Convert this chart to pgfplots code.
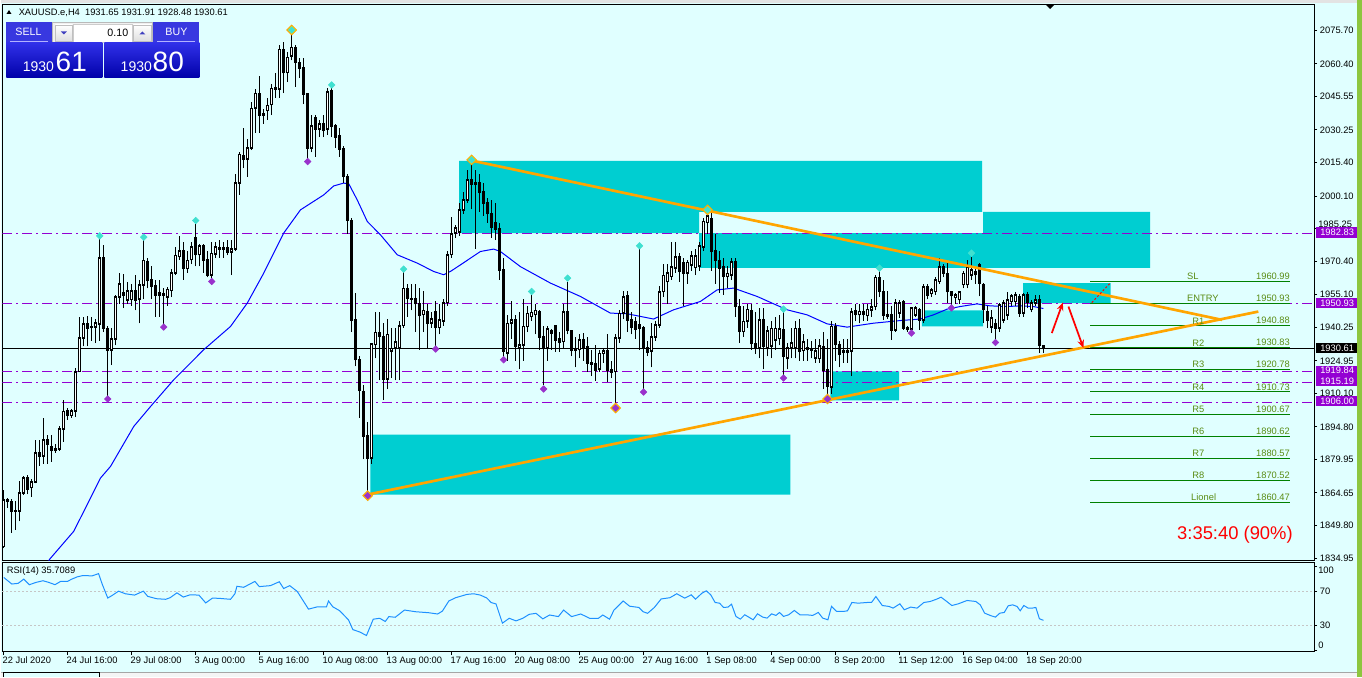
\documentclass[border=0pt]{standalone}
\usepackage{fontspec}
\setmainfont{Liberation Sans}
\usepackage{pgfplots}
\usepackage{pgfplotstable}
\pgfplotsset{compat=1.18}
\usetikzlibrary{arrows.meta}

\definecolor{bgc}{HTML}{E0FFFF}
\definecolor{zone}{HTML}{00CED1}
\definecolor{trend}{HTML}{FFA500}
\definecolor{gold}{HTML}{FFD700}
\definecolor{lvl}{HTML}{9400D3}
\definecolor{grn}{HTML}{008000}
\definecolor{grntxt}{HTML}{5A8C14}
\definecolor{frup}{HTML}{40E0D0}
\definecolor{frdn}{HTML}{9932CC}
\definecolor{rsic}{HTML}{1E90FF}
\definecolor{sidebar}{HTML}{8DC63F}
\definecolor{btnA}{HTML}{3838E0}
\definecolor{btnT}{HTML}{3030E8}
\definecolor{btnB}{HTML}{0000A8}

\newcommand\lbl{\fontsize{7}{8}\selectfont}

% XAUUSD H4, bar index from 22 Jul 2020 00:00
\pgfplotstableread{
i o h l c
0 1840.2 1866.0 1839.5 1861.6
1 1861.6 1862.5 1858.0 1860.8
2 1860.8 1861.8 1846.6 1856.3
3 1856.5 1860.8 1847.9 1856.7
4 1856.3 1870.0 1851.7 1864.7
5 1864.7 1872.5 1863.9 1871.5
6 1871.8 1873.0 1864.0 1866.5
7 1867.0 1871.0 1863.0 1869.7
8 1869.7 1889.0 1869.0 1882.9
9 1882.9 1889.0 1877.0 1881.4
10 1881.4 1899.0 1878.0 1889.0
11 1889.0 1891.0 1878.0 1887.0
12 1886.0 1891.0 1879.0 1884.0
13 1885.0 1887.0 1883.0 1884.0
14 1884.5 1895.0 1884.0 1893.8
15 1893.8 1907.0 1888.0 1901.9
16 1902.0 1903.5 1898.0 1900.0
17 1900.0 1903.0 1899.0 1902.0
18 1902.0 1921.7 1899.5 1920.0
19 1920.0 1945.0 1920.0 1935.3
20 1935.3 1945.0 1931.5 1941.8
21 1941.8 1945.5 1931.5 1939.8
22 1940.0 1945.0 1934.0 1940.6
23 1940.3 1944.0 1933.0 1942.2
24 1941.8 1980.5 1934.0 1971.8
25 1971.8 1977.8 1938.0 1939.8
26 1939.8 1941.0 1909.0 1929.7
27 1929.7 1940.0 1923.0 1934.9
28 1934.9 1955.0 1932.0 1954.0
29 1954.0 1965.0 1951.0 1960.0
30 1955.0 1964.6 1949.0 1956.0
31 1952.7 1961.0 1951.0 1956.9
32 1952.9 1960.0 1950.0 1957.0
33 1957.0 1964.0 1948.0 1952.7
34 1953.0 1962.0 1942.0 1959.5
35 1959.5 1980.0 1953.0 1970.7
36 1970.2 1972.0 1958.0 1961.5
37 1961.9 1968.0 1953.0 1958.8
38 1959.0 1962.0 1945.0 1955.0
39 1955.0 1962.0 1945.0 1956.0
40 1955.5 1958.0 1941.5 1955.0
41 1954.0 1958.5 1950.0 1957.5
42 1957.0 1967.0 1954.0 1965.0
43 1965.0 1977.0 1964.0 1973.0
44 1972.5 1982.0 1971.0 1975.0
45 1975.0 1979.0 1962.0 1967.0
46 1967.0 1975.0 1965.0 1970.7
47 1971.0 1979.0 1969.0 1977.0
48 1980.9 1987.5 1968.0 1973.3
49 1973.3 1978.0 1968.0 1977.4
50 1977.4 1978.0 1965.0 1970.7
51 1971.3 1975.0 1963.0 1964.0
52 1964.0 1979.0 1962.5 1974.0
53 1973.7 1979.0 1972.0 1976.8
54 1976.5 1980.0 1972.0 1976.0
55 1976.0 1979.0 1972.0 1976.5
56 1976.5 1980.0 1973.0 1974.5
57 1974.5 1980.0 1964.0 1976.0
58 1976.0 2010.0 1975.0 2006.0
59 2006.0 2020.4 2000.6 2019.2
60 2018.4 2031.0 2012.8 2017.0
61 2017.0 2026.0 2009.0 2022.0
62 2022.0 2043.0 2021.0 2040.1
63 2040.1 2049.0 2029.0 2047.0
64 2046.6 2055.0 2029.0 2037.0
65 2037.5 2040.0 2033.0 2037.0
66 2039.0 2045.0 2035.0 2041.5
67 2041.7 2051.0 2037.0 2049.3
68 2049.5 2056.0 2045.0 2048.8
69 2048.8 2069.0 2045.0 2067.0
70 2067.0 2070.4 2047.0 2056.4
71 2056.4 2066.0 2052.0 2063.4
72 2064.0 2074.0 2062.0 2068.0
73 2068.0 2069.0 2050.0 2061.0
74 2061.0 2063.0 2054.0 2058.5
75 2058.5 2063.0 2042.0 2046.7
76 2046.7 2047.0 2017.0 2021.9
77 2022.0 2037.0 2020.0 2032.0
78 2036.0 2037.0 2018.0 2030.6
79 2030.6 2035.0 2027.0 2033.0
80 2033.0 2037.0 2027.0 2030.0
81 2030.6 2049.5 2028.0 2047.7
82 2048.0 2049.5 2027.0 2031.8
83 2032.0 2033.0 2022.0 2027.0
84 2027.8 2031.0 2018.0 2021.5
85 2021.9 2023.0 2006.0 2009.0
86 2009.0 2010.0 1983.0 1989.0
87 1989.0 1990.0 1938.0 1943.3
88 1943.6 1955.8 1922.4 1925.4
89 1925.4 1927.0 1899.0 1911.4
90 1911.0 1914.0 1880.0 1890.6
91 1891.0 1897.0 1865.0 1880.6
92 1880.6 1933.0 1878.0 1932.7
93 1932.3 1947.0 1926.0 1938.0
94 1937.8 1947.0 1916.0 1936.0
95 1936.0 1942.0 1907.0 1916.5
96 1916.5 1944.0 1912.0 1937.0
97 1929.2 1940.0 1917.0 1930.7
98 1930.6 1940.0 1916.0 1933.5
99 1931.0 1943.0 1916.0 1941.0
100 1941.0 1965.3 1940.0 1958.0
101 1958.0 1960.0 1945.0 1953.5
102 1953.5 1960.0 1948.0 1953.0
103 1953.5 1960.0 1938.0 1951.0
104 1951.0 1958.0 1930.0 1945.5
105 1946.0 1957.0 1938.0 1948.0
106 1947.5 1951.0 1931.0 1942.0
107 1942.0 1947.0 1940.0 1944.0
108 1947.5 1952.0 1931.5 1940.0
109 1940.0 1951.0 1937.0 1943.7
110 1943.0 1953.0 1941.0 1951.5
111 1951.5 1975.0 1950.0 1973.3
112 1973.3 1990.7 1972.0 1983.0
113 1983.3 1987.0 1981.0 1985.5
114 1983.6 1997.0 1982.0 1993.8
115 1993.8 2002.0 1992.0 1998.3
116 1998.3 2012.0 1997.0 2007.4
117 2007.4 2015.0 1994.0 2005.6
118 2006.0 2012.0 1976.0 2005.5
119 2006.0 2010.0 1993.0 2001.7
120 2002.0 2006.0 1991.0 1996.8
121 1997.0 1999.0 1988.0 1992.0
122 1992.0 1998.3 1981.0 1986.0
123 1988.0 1997.0 1980.0 1985.0
124 1985.0 1988.0 1962.0 1966.4
125 1966.4 1972.0 1926.5 1929.2
126 1928.3 1946.0 1925.0 1942.0
127 1942.0 1952.0 1935.0 1943.5
128 1943.6 1946.0 1925.0 1931.5
129 1930.7 1947.0 1921.0 1932.2
130 1932.2 1953.0 1925.0 1940.6
131 1940.5 1950.0 1938.0 1946.6
132 1945.0 1955.0 1943.0 1947.0
133 1946.0 1951.0 1937.0 1948.0
134 1947.5 1948.0 1930.0 1935.8
135 1935.8 1941.0 1914.0 1930.8
136 1930.8 1941.0 1925.0 1939.4
137 1938.7 1939.5 1930.0 1937.5
138 1941.0 1941.5 1929.0 1934.5
139 1935.0 1938.0 1929.0 1933.3
140 1933.7 1951.0 1931.0 1947.4
141 1947.4 1961.0 1937.0 1938.8
142 1938.8 1939.0 1927.0 1929.7
143 1930.5 1936.0 1922.0 1929.7
144 1930.0 1937.0 1926.0 1934.5
145 1934.5 1937.5 1925.0 1931.0
146 1931.5 1936.0 1920.0 1924.0
147 1924.0 1930.0 1918.0 1923.5
148 1923.5 1932.0 1915.7 1920.8
149 1921.0 1930.0 1920.0 1928.3
150 1928.3 1931.0 1924.0 1929.5
151 1929.7 1937.0 1915.5 1920.8
152 1920.8 1925.0 1917.0 1919.7
153 1920.0 1937.0 1905.0 1935.3
154 1935.3 1948.0 1933.0 1946.6
155 1946.6 1957.0 1944.0 1954.2
156 1954.5 1957.0 1938.0 1943.6
157 1943.9 1947.0 1937.0 1940.3
158 1943.0 1945.0 1935.0 1939.5
159 1941.5 1976.0 1930.0 1939.8
160 1940.0 1941.0 1912.0 1930.7
161 1931.0 1934.0 1927.0 1929.0
162 1929.3 1942.0 1922.0 1936.0
163 1935.8 1943.0 1934.0 1941.3
164 1941.3 1959.0 1940.0 1956.5
165 1956.5 1969.0 1954.0 1964.0
166 1961.0 1969.0 1951.0 1965.0
167 1963.4 1979.0 1962.0 1967.9
168 1967.2 1979.0 1965.0 1972.5
169 1972.5 1974.0 1961.0 1965.7
170 1969.8 1972.0 1950.0 1965.0
171 1965.0 1971.0 1960.0 1969.8
172 1968.7 1975.0 1966.0 1972.8
173 1967.5 1976.0 1964.0 1972.8
174 1968.0 1979.0 1966.0 1977.4
175 1976.8 1990.0 1975.0 1988.5
176 1988.0 1992.5 1983.0 1991.0
177 1990.0 1993.0 1966.0 1974.8
178 1975.0 1983.0 1960.0 1970.7
179 1970.7 1975.0 1956.0 1967.2
180 1968.0 1972.0 1955.0 1963.4
181 1963.4 1968.0 1958.0 1964.9
182 1964.0 1972.0 1962.0 1970.2
183 1970.2 1972.0 1945.0 1949.7
184 1949.7 1953.0 1933.0 1938.3
185 1938.3 1950.0 1936.0 1942.9
186 1942.9 1951.0 1940.0 1948.5
187 1948.0 1951.0 1930.0 1932.7
188 1932.7 1947.0 1928.0 1931.2
189 1931.0 1949.0 1926.0 1943.6
190 1943.6 1949.0 1921.0 1931.5
191 1931.0 1941.0 1927.0 1938.5
192 1931.5 1942.9 1926.0 1939.8
193 1934.5 1945.0 1930.0 1939.8
194 1935.0 1946.0 1932.0 1939.5
195 1939.3 1947.0 1918.5 1926.9
196 1926.2 1933.0 1921.0 1930.8
197 1930.8 1940.0 1926.0 1933.1
198 1931.0 1943.0 1926.0 1939.7
199 1939.8 1944.0 1925.0 1929.2
200 1929.5 1937.0 1925.0 1933.6
201 1931.0 1935.0 1925.0 1930.0
202 1930.5 1934.0 1926.0 1929.8
203 1926.2 1935.0 1924.0 1929.6
204 1926.0 1935.0 1924.0 1931.8
205 1931.5 1938.0 1912.0 1920.8
206 1920.8 1935.0 1909.0 1913.2
207 1913.0 1942.9 1910.0 1940.6
208 1940.3 1942.0 1925.0 1932.3
209 1932.3 1934.0 1922.0 1928.0
210 1929.5 1935.0 1924.0 1928.8
211 1929.0 1935.0 1924.0 1929.5
212 1929.3 1949.0 1918.0 1947.4
213 1947.8 1951.0 1943.0 1946.0
214 1946.0 1951.0 1942.0 1947.5
215 1947.5 1951.0 1943.0 1946.0
216 1945.5 1951.0 1943.0 1948.5
217 1948.0 1953.0 1945.0 1949.7
218 1949.7 1964.0 1948.0 1963.0
219 1963.0 1966.0 1954.0 1956.5
220 1956.5 1962.0 1943.6 1945.9
221 1945.0 1957.0 1944.0 1946.0
222 1946.0 1950.0 1934.5 1939.0
223 1939.0 1953.0 1938.0 1951.5
224 1946.7 1952.8 1944.4 1951.5
225 1952.0 1952.8 1939.1 1939.9
226 1939.9 1941.0 1938.0 1939.1
227 1939.5 1949.0 1939.0 1949.0
228 1945.9 1950.0 1945.0 1949.0
229 1948.2 1949.0 1939.0 1943.6
230 1943.6 1960.0 1942.0 1958.8
231 1958.8 1960.0 1953.0 1955.0
232 1955.5 1958.0 1954.0 1957.3
233 1956.5 1963.0 1955.0 1961.9
234 1961.1 1971.8 1960.0 1967.9
235 1967.9 1969.0 1963.0 1964.9
236 1964.9 1969.4 1951.3 1956.5
237 1956.5 1957.0 1950.5 1954.6
238 1953.8 1956.0 1951.0 1955.0
239 1952.8 1957.0 1951.0 1956.5
240 1959.6 1966.0 1958.0 1964.9
241 1959.6 1971.0 1958.0 1967.9
242 1964.0 1972.5 1962.0 1966.4
243 1965.8 1968.0 1960.0 1964.2
244 1968.7 1969.7 1954.3 1960.4
245 1959.6 1960.4 1942.1 1948.2
246 1947.4 1950.0 1939.9 1943.6
247 1940.3 1948.0 1937.6 1944.4
248 1942.1 1944.0 1934.5 1939.9
249 1939.9 1951.5 1938.0 1950.5
250 1943.6 1952.5 1942.0 1951.3
251 1945.9 1956.5 1943.6 1952.8
252 1952.0 1955.5 1950.0 1954.6
253 1952.0 1956.5 1950.0 1955.0
254 1954.3 1955.5 1945.0 1946.7
255 1946.7 1956.0 1945.0 1955.0
256 1955.0 1956.5 1949.0 1951.5
257 1948.2 1952.5 1947.0 1951.3
258 1951.3 1955.0 1950.0 1952.8
259 1952.8 1955.0 1928.5 1931.8
260 1931.65 1931.91 1928.48 1930.61
}\candles

% moving average (blue)
\pgfplotstableread{
i ma
10.4 1828.8
11.4 1834.3
17.5 1847.2
24.2 1871.5
26.7 1876.8
32.5 1895.0
36.7 1904.1
42.5 1916.3
50.0 1930.0
56.7 1940.6
60.9 1951.3
65.0 1964.9
70.0 1983.2
74.2 1993.8
80.0 2000.6
82.5 2004.7
85.0 2006.0
86.3 2005.6
88.4 1998.3
90.9 1988.5
94.2 1982.4
98.4 1973.3
103.4 1969.5
107.5 1965.7
110.0 1964.2
111.7 1965.7
114.2 1968.7
119.2 1974.8
122.5 1975.9
124.2 1974.8
129.2 1967.9
136.7 1960.4
144.2 1954.3
151.7 1946.7
155.9 1946.4
162.5 1944.0
167.5 1948.2
174.2 1952.0
178.4 1957.3
182.5 1958.1
188.4 1954.3
195.9 1948.2
200.9 1945.9
205.9 1941.8
210.9 1940.3
217.5 1942.1
224.2 1943.3
229.2 1944.0
232.5 1945.9
235.9 1948.5
239.2 1949.7
243.4 1950.9
246.7 1950.0
250.9 1949.7
254.2 1950.0
257.5 1949.7
260.0 1948.8
}\matab

% RSI(14)
\pgfplotstableread{
i r
0.0 86.7
2.0 78.9
3.6 79.7
5.0 84.7
6.4 78.1
8.1 80.9
9.8 82.8
11.2 80.9
12.8 78.1
14.2 82.0
15.9 82.0
17.0 84.7
18.4 87.5
19.8 89.0
22.1 88.6
23.7 91.3
24.6 78.9
26.0 62.2
27.1 65.3
28.7 70.4
30.4 67.3
32.7 65.7
34.9 70.4
36.0 64.2
38.2 61.4
40.5 60.7
41.6 62.6
43.3 68.4
44.9 63.4
46.6 66.1
48.8 65.7
50.5 56.4
52.2 62.2
53.9 61.8
56.7 60.7
57.8 67.3
58.3 76.2
60.0 75.0
62.8 82.0
63.9 75.8
66.7 77.0
68.9 81.6
70.0 73.5
71.5 77.0
73.4 70.0
76.2 49.0
78.4 51.7
80.7 51.7
81.2 58.7
82.3 51.7
84.0 47.1
86.2 36.2
87.3 24.6
89.0 21.8
90.7 17.6
92.4 37.0
94.0 38.1
95.4 34.3
96.3 40.1
97.9 39.3
100.2 47.9
103.0 45.9
106.3 44.7
108.5 43.2
109.7 46.7
111.3 58.7
113.0 62.6
115.8 66.5
117.5 67.3
119.2 65.7
120.8 62.2
121.9 56.8
123.1 55.2
124.7 32.3
126.4 38.1
128.1 35.0
129.8 38.1
131.4 42.8
133.1 44.0
134.8 37.4
136.5 42.0
138.7 40.1
140.0 47.9
142.0 40.1
144.3 43.2
146.5 38.1
148.7 38.1
149.8 42.0
151.5 37.0
152.6 47.9
154.9 58.7
156.5 52.5
158.8 51.0
159.9 45.9
161.0 44.0
162.7 51.0
164.4 61.1
166.6 62.6
168.3 67.3
170.3 62.1
171.9 66.0
173.0 60.9
174.6 68.0
175.7 70.8
176.8 66.0
177.9 56.9
179.0 56.1
180.0 51.0
181.1 51.4
182.0 54.9
183.1 40.3
184.2 37.1
185.3 42.3
186.3 39.5
187.4 36.3
188.5 43.4
189.8 39.5
190.9 38.3
192.0 43.4
193.1 41.5
194.0 45.0
195.0 40.3
196.3 42.3
197.7 47.4
199.1 42.3
200.7 42.3
202.3 41.5
203.7 45.0
204.8 38.3
206.1 36.3
207.0 52.2
208.3 46.2
209.9 46.2
211.0 47.0
212.1 56.9
213.7 56.1
215.9 56.9
217.0 56.9
218.1 64.0
219.7 53.3
221.4 52.2
222.4 50.2
224.1 55.3
225.2 48.2
226.8 51.4
228.4 50.2
230.1 56.9
231.7 58.1
233.3 60.9
234.4 63.2
235.5 59.3
237.1 53.3
238.7 55.3
240.9 59.3
243.1 58.1
244.2 54.1
245.3 44.2
246.9 41.1
248.0 39.5
249.1 44.2
250.2 45.0
251.2 53.0
252.3 54.1
253.4 52.2
254.2 47.0
255.1 53.3
256.2 50.2
257.2 50.2
258.1 51.0
259.0 37.5
260.0 35.7
}\rsitab

\pgfplotsset{
  lvlline/.style={lvl, line width=0.75pt, dash pattern=on 7.5pt off 3pt on 1.5pt off 3pt},
  grnline/.style={grn, line width=0.75pt},
}
\tikzset{
  glab/.style={grntxt, font=\lbl, inner sep=0pt, anchor=south west, yshift=1.2pt},
  gval/.style={grntxt, font=\lbl, inner sep=0pt, anchor=south east, yshift=1.2pt},
}

\begin{document}
\begin{tikzpicture}
\begin{scope}[x=0.75pt,y=-0.75pt]
  \useasboundingbox (0,0) rectangle (1362,677);
  \fill[bgc] (0,0) rectangle (1362,677);
  \fill[gray!22] (0,0) rectangle (1362,3);
\end{scope}

% ---------------- price panel ----------------
\begin{axis}[
  name=main, at={(1.5pt,-3pt)}, anchor=north west, scale only axis,
  width=984pt, height=417.75pt,
  xmin=-0.325, xmax=327.675, ymin=1833.72, ymax=2087.69,
  axis line style={black, line width=0.75pt},
  xtick=\empty,
  ytick={2075.70,2060.40,2045.55,2030.25,2015.40,2000.10,1985.25,1970.40,1955.10,1940.25,1924.95,1910.10,1894.80,1879.95,1864.65,1849.80,1834.95},
  yticklabels={2075.70,2060.40,2045.55,2030.25,2015.40,2000.10,,1970.40,1955.10,1940.25,1924.95,1910.10,1894.80,1879.95,1864.65,1849.80,1834.95},
  ytick pos=right, yticklabel pos=right,
  tick align=outside, major tick length=2.25pt,
  tick style={black, line width=0.75pt},
  yticklabel style={font=\lbl, inner sep=0pt, anchor=west, xshift=2pt},
]
% supply / demand zones
\addplot[fill=zone, draw=none, forget plot] coordinates {(113.9,1992.88) (244.7,1992.88) (244.7,2016.13) (113.9,2016.13) (113.9,1992.88)};
\addplot[fill=zone, draw=none, forget plot] coordinates {(113.9,1983.17) (173.9,1983.17) (173.9,1992.88) (113.9,1992.88) (113.9,1983.17)};
\addplot[fill=zone, draw=none, forget plot] coordinates {(244.9,1967.36) (286.7,1967.36) (286.7,1992.88) (244.9,1992.88) (244.9,1967.36)};
\addplot[fill=zone, draw=none, forget plot] coordinates {(173.9,1967.36) (244.9,1967.36) (244.9,1983.17) (173.9,1983.17) (173.9,1967.36)};
\addplot[fill=zone, draw=none, forget plot] coordinates {(91.7,1863.89) (196.7,1863.89) (196.7,1891.24) (91.7,1891.24) (91.7,1863.89)};
\addplot[fill=zone, draw=none, forget plot] coordinates {(206.7,1906.87) (223.9,1906.87) (223.9,1920.09) (206.7,1920.09) (206.7,1906.87)};
\addplot[fill=zone, draw=none, forget plot] coordinates {(229.6,1940.60) (244.9,1940.60) (244.9,1947.89) (229.6,1947.89) (229.6,1940.60)};
\addplot[fill=zone, draw=none, forget plot] coordinates {(254.9,1951.27) (276.8,1951.27) (276.8,1960.38) (254.9,1960.38) (254.9,1951.27)};

% horizontal levels
\addplot[lvlline] coordinates {(-0.325,1982.83) (327.675,1982.83)};
\addplot[lvlline] coordinates {(-0.325,1950.93) (327.675,1950.93)};
\addplot[lvlline] coordinates {(-0.325,1919.84) (327.675,1919.84)};
\addplot[lvlline] coordinates {(-0.325,1915.19) (327.675,1915.19)};
\addplot[lvlline] coordinates {(-0.325,1906.00) (327.675,1906.00)};
\addplot[black, line width=0.75pt] coordinates {(-0.325,1930.61) (327.675,1930.61)};

% SL / entry / targets
\addplot[grnline] coordinates {(271.7,1960.99) (321.7,1960.99)};
\addplot[grnline] coordinates {(271.7,1950.93) (321.7,1950.93)};
\addplot[grnline] coordinates {(271.7,1940.88) (321.7,1940.88)};
\addplot[grnline] coordinates {(271.7,1930.83) (321.7,1930.83)};
\addplot[grnline] coordinates {(271.7,1920.78) (321.7,1920.78)};
\addplot[grnline] coordinates {(271.7,1910.73) (321.7,1910.73)};
\addplot[grnline] coordinates {(271.7,1900.67) (321.7,1900.67)};
\addplot[grnline] coordinates {(271.7,1890.62) (321.7,1890.62)};
\addplot[grnline] coordinates {(271.7,1880.57) (321.7,1880.57)};
\addplot[grnline] coordinates {(271.7,1870.52) (321.7,1870.52)};
\addplot[grnline] coordinates {(271.7,1860.47) (321.7,1860.47)};

% moving average
\addplot[blue, line width=0.75pt] table[x=i, y=ma] {\matab};

% candles: wicks, black bodies, bull outlines, white insides
\addplot[draw=none, mark=none, forget plot, restrict y to domain=1700:2200,
  error bars/.cd, y dir=plus, y explicit, error mark=none,
  error bar style={draw=black, solid, line width=0.75pt}]
  table[x=i, y=l, y error plus expr={\thisrow{h}-\thisrow{l}}] {\candles};
\addplot[draw=none, mark=none, forget plot, restrict y to domain=1700:2200,
  error bars/.cd, y dir=plus, y explicit, error mark=none,
  error bar style={draw=black, solid, line width=2.25pt}]
  table[x=i, y expr={\thisrow{c}<\thisrow{o} ? \thisrow{c}-0.3 : 5000},
        y error plus expr={\thisrow{o}-\thisrow{c}+0.6}] {\candles};
\addplot[draw=none, mark=none, forget plot, restrict y to domain=1700:2200,
  error bars/.cd, y dir=plus, y explicit, error mark=none,
  error bar style={draw=black, solid, line width=2.25pt}]
  table[x=i, y expr={\thisrow{c}>=\thisrow{o} ? \thisrow{o}-0.3 : 5000},
        y error plus expr={\thisrow{c}-\thisrow{o}+0.6}] {\candles};
\addplot[draw=none, mark=none, forget plot, restrict y to domain=1700:2200,
  error bars/.cd, y dir=plus, y explicit, error mark=none,
  error bar style={draw=white, solid, line width=0.75pt}]
  table[x=i, y expr={\thisrow{c}-\thisrow{o}>1.0 ? \thisrow{o}+0.45 : 5000},
        y error plus expr={\thisrow{c}-\thisrow{o}-0.9}] {\candles};

% triangle trend lines
\addplot[trend, line width=2pt] coordinates {(116.2,2016.6) (304.7,1943.6)};
\addplot[trend, line width=2pt] coordinates {(90.9,1863.9) (313.75,1947.4)};

% zigzag points
\addplot[only marks, mark=square*, mark size=2.6pt, mark options={rotate=45, fill=gold, draw=trend, line width=0.6pt}]
  coordinates {(72,2075.84) (117,2016.6) (176,1993.79) (91,1863.43) (153,1903.41) (206,1907.51)};
% fractals
\addplot[only marks, mark=square*, mark size=1.75pt, mark options={rotate=45, fill=frup, draw=frup}]
  coordinates {(24,1981.94) (35,1981.35) (48,1988.92) (72,2075.84) (82,2050.77) (100,1966.76)
  (117,2016.6) (132,1956.55) (141,1962.66) (159,1977.38) (176,1993.79) (195,1948.53)
  (219,1967.22) (242,1974.06)};
\addplot[only marks, mark=square*, mark size=1.75pt, mark options={rotate=45, fill=frdn, draw=frdn}]
  coordinates {(26,1907.51) (40,1940.33) (52,1961.11) (76,2015.81) (91,1863.43) (108,1930.30)
  (125,1925.42) (135,1912.07) (153,1903.41) (160,1910.70) (195,1917.08) (206,1907.51)
  (227,1937.59) (237,1949.06) (248,1933.30)};

% arrows
\addplot[red, line width=1.3pt, -{Stealth[length=6pt,width=5pt]}] coordinates {(262.1,1937.6) (264.85,1951.5)};
\addplot[red, line width=1.3pt, -{Stealth[length=6pt,width=5pt]}] coordinates {(266.25,1949.7) (270.0,1930.8)};
\addplot[red, line width=0.75pt, dash pattern=on 1.5pt off 1.5pt] coordinates {(272.1,1951.5) (276.7,1960.4)};

% level labels
\node[glab] at (axis cs:295.9,1960.99) {SL};
\node[glab] at (axis cs:295.9,1950.93) {ENTRY};
\node[glab] at (axis cs:297.2,1940.88) {R1};
\node[glab] at (axis cs:297.2,1930.83) {R2};
\node[glab] at (axis cs:297.2,1920.78) {R3};
\node[glab] at (axis cs:297.2,1910.73) {R4};
\node[glab] at (axis cs:297.2,1900.67) {R5};
\node[glab] at (axis cs:297.2,1890.62) {R6};
\node[glab] at (axis cs:297.2,1880.57) {R7};
\node[glab] at (axis cs:297.2,1870.52) {R8};
\node[glab] at (axis cs:296.9,1860.47) {Lionel};
\node[gval] at (axis cs:321.7,1960.99) {1960.99};
\node[gval] at (axis cs:321.7,1950.93) {1950.93};
\node[gval] at (axis cs:321.7,1940.88) {1940.88};
\node[gval] at (axis cs:321.7,1930.83) {1930.83};
\node[gval] at (axis cs:321.7,1920.78) {1920.78};
\node[gval] at (axis cs:321.7,1910.73) {1910.73};
\node[gval] at (axis cs:321.7,1900.67) {1900.67};
\node[gval] at (axis cs:321.7,1890.62) {1890.62};
\node[gval] at (axis cs:321.7,1880.57) {1880.57};
\node[gval] at (axis cs:321.7,1870.52) {1870.52};
\node[gval] at (axis cs:321.7,1860.47) {1860.47};
\node[red, font=\fontsize{13.8}{15}\selectfont, inner sep=0pt] at (axis cs:307.9,1845.6) {3:35:40 (90\%)};
\end{axis}

% ---------------- RSI panel ----------------
\begin{axis}[
  name=rsi, at={(1.5pt,-422.25pt)}, anchor=north west, scale only axis,
  width=984pt, height=66.75pt,
  xmin=-0.325, xmax=327.675, ymin=-1.79, ymax=104.17,
  clip=false,
  axis line style={black, line width=0.75pt},
  xtick={0,16,32,48,64,80,96,112,128,144,160,176,192,208,224,240,256},
  xticklabels={22 Jul 2020,24 Jul 16:00,29 Jul 08:00,3 Aug 00:00,5 Aug 16:00,10 Aug 08:00,13 Aug 00:00,17 Aug 16:00,20 Aug 08:00,25 Aug 00:00,27 Aug 16:00,1 Sep 08:00,4 Sep 00:00,8 Sep 20:00,11 Sep 12:00,16 Sep 04:00,18 Sep 20:00},
  xtick pos=bottom,
  ytick={100,70,30,0}, yticklabels={,70,30,},
  ytick pos=right, yticklabel pos=right,
  tick align=outside, major tick length=2.25pt,
  tick style={black, line width=0.75pt},
  xticklabel style={font=\lbl, inner sep=0pt, anchor=north west, xshift=-1pt, yshift=-1.5pt},
  yticklabel style={font=\lbl, inner sep=0pt, anchor=west, xshift=2pt},
]
\addplot[gray!45, line width=0.75pt, dash pattern=on 1.5pt off 1.5pt] coordinates {(-0.325,70) (327.675,70)};
\addplot[gray!45, line width=0.75pt, dash pattern=on 1.5pt off 1.5pt] coordinates {(-0.325,30) (327.675,30)};
\addplot[rsic, line width=0.75pt] table[x=i, y=r] {\rsitab};
\node[font=\lbl, inner sep=0pt, anchor=north west] at ([xshift=3pt,yshift=-3pt]rel axis cs:0,1) {RSI(14) 35.7089};
\end{axis}

% ---------------- overlays in pixel units ----------------
\begin{scope}[x=0.75pt,y=-0.75pt]
  % price tags on the right scale
  \node[font=\lbl, anchor=west, inner sep=0pt] at (1318,224.5) {1985.25};
  \fill[lvl] (1316,227) rectangle (1357,238);
  \node[white, font=\lbl, anchor=west, inner sep=0pt] at (1320,232.5) {1982.83};
  \fill[lvl] (1316,298.5) rectangle (1357,308.5);
  \node[white, font=\lbl, anchor=west, inner sep=0pt] at (1320,303.5) {1950.93};
  \fill[black] (1316,343.5) rectangle (1357,353.5);
  \node[white, font=\lbl, anchor=west, inner sep=0pt] at (1320,348.5) {1930.61};
  \fill[lvl] (1316,366) rectangle (1357,386);
  \node[white, font=\lbl, anchor=west, inner sep=0pt] at (1320,370.8) {1919.84};
  \node[white, font=\lbl, anchor=west, inner sep=0pt] at (1320,381.2) {1915.19};
  \fill[lvl] (1316,396.5) rectangle (1357,406.5);
  \node[white, font=\lbl, anchor=west, inner sep=0pt] at (1320,401.5) {1906.00};
  % RSI scale ends
  \node[font=\lbl, anchor=west, inner sep=0pt] at (1318,570.5) {100};
  \node[font=\lbl, anchor=west, inner sep=0pt] at (1318,646) {0};

  % header
  \fill[black] (6,14) -- (11,14) -- (8.5,10) -- cycle;
  \node[font=\lbl, anchor=west, inner sep=0pt] at (18,12.5) {XAUUSD.e,H4\ \ 1931.65 1931.91 1928.48 1930.61};
  \fill[black] (1045,4) -- (1055,4) -- (1050,9) -- cycle;

  % one click trading panel
  \fill[btnA] (6,22) rectangle (52,43);
  \draw[blue!30!white, line width=0.75pt] (10,41.8) -- (48,41.8);
  \node[white, font=\fontsize{8}{9}\selectfont] at (28,32) {SELL};
  \fill[gray!12] (52,22) rectangle (153,43);
  \draw[gray!55, line width=0.75pt] (52.5,22.5) rectangle (152.5,42.5);
  \shade[top color=white, bottom color=gray!25] (55,25) rectangle (72,41);
  \draw[gray!50, line width=0.5pt] (55,25) rectangle (72,41);
  \fill[gray!50!blue] (60.5,31.5) -- (66.5,31.5) -- (63.5,34.5) -- cycle;
  \fill[white] (73,24) rectangle (132,42);
  \draw[gray!40, line width=0.5pt] (73,24) rectangle (132,42);
  \node[font=\fontsize{8}{9}\selectfont, anchor=east, inner sep=0pt] at (128,33) {0.10};
  \shade[top color=white, bottom color=gray!25] (133,25) rectangle (151,41);
  \draw[gray!50, line width=0.5pt] (133,25) rectangle (151,41);
  \fill[gray!50!blue] (139,34.5) -- (145,34.5) -- (142,31.5) -- cycle;
  \fill[btnA] (153,22) rectangle (199,43);
  \draw[blue!30!white, line width=0.75pt] (157,41.8) -- (195,41.8);
  \node[white, font=\fontsize{8}{9}\selectfont] at (176,32) {BUY};
  \shade[top color=btnT, bottom color=btnB] (6,43) rectangle (102,78);
  \shade[top color=btnT, bottom color=btnB] (104,43) rectangle (199,78);
  \node[white, font=\fontsize{10.5}{12}\selectfont, anchor=base west, inner sep=0pt] at (22,72) {1930};
  \node[white, font=\fontsize{21}{24}\selectfont, anchor=base west, inner sep=0pt] at (55,72) {61};
  \node[white, font=\fontsize{10.5}{12}\selectfont, anchor=base west, inner sep=0pt] at (120,72) {1930};
  \node[white, font=\fontsize{21}{24}\selectfont, anchor=base west, inner sep=0pt] at (152,72) {80};

  % window chrome
  \fill[sidebar] (1357,0) rectangle (1362,677);
  \fill[gray!8] (0,673) rectangle (1357,677);
  \draw[gray!70, line width=0.75pt] (0,673) -- (1357,673);
  \fill[bgc] (3,673) rectangle (99,677);
  \draw[black, line width=0.75pt] (3,677) -- (3,673) -- (99,673) -- (99,677);
\end{scope}
\end{tikzpicture}
\end{document}
